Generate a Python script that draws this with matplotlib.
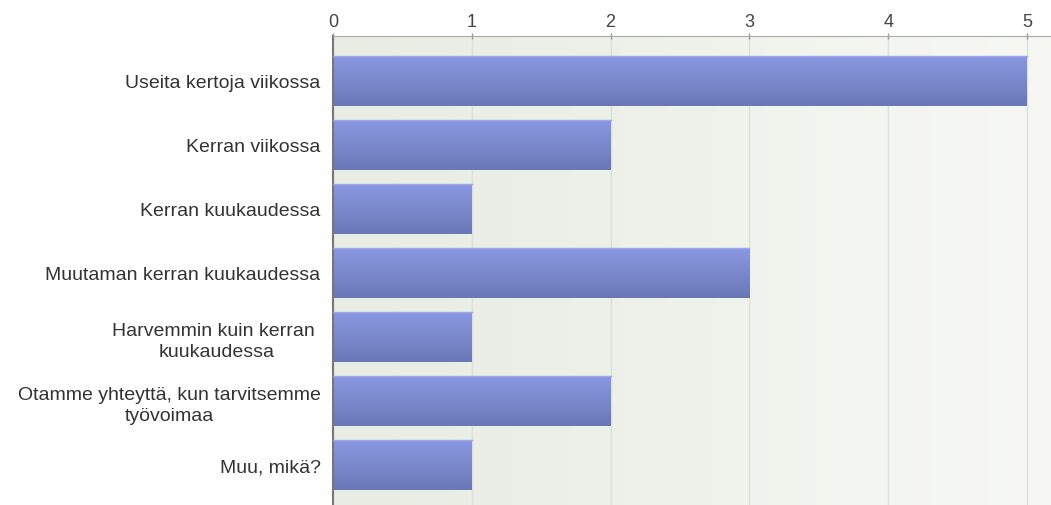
import matplotlib.pyplot as plt
import numpy as np
from matplotlib.colors import LinearSegmentedColormap

categories = [
    "Useita kertoja viikossa",
    "Kerran viikossa",
    "Kerran kuukaudessa",
    "Muutaman kerran kuukaudessa",
    "Harvemmin kuin kerran \nkuukaudessa",
    "Otamme yhteyttä, kun tarvitsemme\ntyövoimaa",
    "Muu, mikä?",
]
counts = [5, 2, 1, 3, 1, 2, 1]
x_ticks = [0, 1, 2, 3, 4, 5]

plt.rcParams["font.family"] = ["Liberation Sans", "DejaVu Sans"]

fig = plt.figure(figsize=(10.51, 5.06), dpi=100)
ax = fig.add_axes([333 / 1051, 0.0, 718 / 1051, 1 - 37 / 506])

xmax = 5 + 24 / 138.8
ylim = (6.63, -0.70)
ax.set_xlim(0, xmax)
ax.set_ylim(*ylim)

# background: soft horizontal gradient, greenish grey to near white
bg = LinearSegmentedColormap.from_list("bg", ["#e8ece3", "#f7f8f4"])
ax.imshow(np.linspace(0, 1, 256).reshape(1, -1), cmap=bg, aspect="auto",
          extent=[0, xmax, ylim[0], ylim[1]], zorder=0)

for t in x_ticks[1:]:
    ax.axvline(t, color="#dcdedb", linewidth=1, zorder=1)

# bars with vertical gradient
bar_cmap = LinearSegmentedColormap.from_list("bar", ["#8a98e2", "#6b78b6"])
grad = np.linspace(0, 1, 64).reshape(-1, 1)
height = 0.78
for i, v in enumerate(counts):
    ax.imshow(grad, cmap=bar_cmap, aspect="auto",
              extent=[0, v, i + height / 2, i - height / 2], zorder=2)
    ax.plot([0, v], [i - height / 2, i - height / 2], color="#9aa6ea",
            linewidth=1, zorder=3)
ax.set_xlim(0, xmax)
ax.set_ylim(*ylim)

ax.set_yticks(range(len(categories)))
ax.set_yticklabels(categories, fontsize=14, color="#333333")
for lbl in ax.get_yticklabels():
    lbl.set_multialignment("center")
    lbl.set_linespacing(1.3)
ax.tick_params(axis="y", length=0, pad=9)

ax.xaxis.tick_top()
ax.set_xticks(x_ticks)
ax.set_xticklabels([str(t) for t in x_ticks], fontsize=13, color="#444444")
ax.tick_params(axis="x", length=4, width=1, color="#999999", pad=2,
               direction="inout")

for side in ["right", "bottom"]:
    ax.spines[side].set_visible(False)
ax.spines["top"].set_color("#aaaaaa")
ax.spines["left"].set_color("#777777")
ax.spines["left"].set_linewidth(1.5)

fig.savefig("out.png", dpi=100)
